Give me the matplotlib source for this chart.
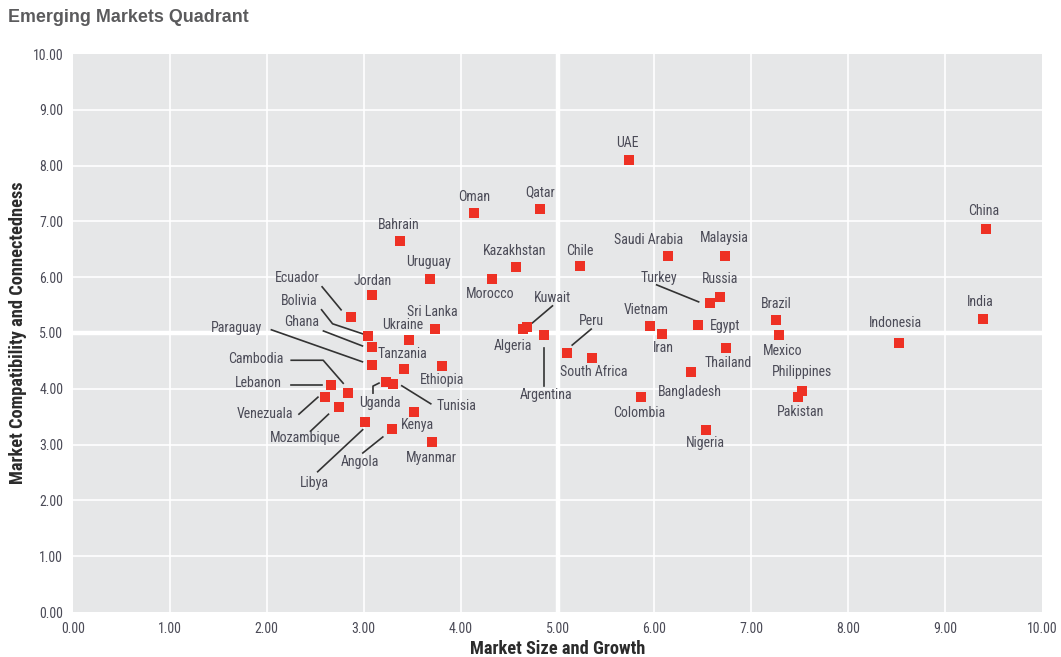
import matplotlib
matplotlib.use("Agg")
import matplotlib.pyplot as plt
import numpy as np

countries = ["UAE", "Oman", "Qatar", "Bahrain", "China", "Kazakhstan", "Chile", "Saudi Arabia",
             "Malaysia", "Uruguay", "Morocco", "Jordan", "Russia", "Turkey", "India", "Brazil",
             "Ecuador", "Egypt", "Vietnam", "Kuwait", "Algeria", "Sri Lanka", "Iran", "Mexico",
             "Bolivia", "Argentina", "Ukraine", "Ghana", "Paraguay", "Tanzania", "Ethiopia",
             "Cambodia", "Lebanon", "Venezuala", "Mozambique", "Libya", "Angola", "Uganda",
             "Tunisia", "Kenya", "Myanmar", "Peru", "South Africa", "Colombia", "Bangladesh",
             "Thailand", "Nigeria", "Philippines", "Pakistan", "Indonesia"]
market_size = [5.74, 4.14, 4.82, 3.37, 9.42, 4.57, 5.23, 6.14,
               6.73, 3.68, 4.32, 3.09, 6.68, 6.57, 9.39, 7.26,
               2.87, 6.45, 5.95, 4.69, 4.64, 3.74, 6.08, 7.29,
               3.04, 4.86, 3.47, 3.09, 3.09, 3.42, 3.81,
               2.84, 2.66, 2.60, 2.74, 3.01, 3.29, 3.23,
               3.30, 3.52, 3.71, 5.10, 5.36, 5.86, 6.38,
               6.74, 6.53, 7.52, 7.48, 8.52]
compatibility = [8.10, 7.15, 7.22, 6.65, 6.87, 6.18, 6.20, 6.38,
                 6.38, 5.97, 5.97, 5.68, 5.65, 5.54, 5.25, 5.23,
                 5.29, 5.14, 5.13, 5.11, 5.07, 5.07, 4.98, 4.96,
                 4.95, 4.96, 4.87, 4.75, 4.43, 4.35, 4.41,
                 3.92, 4.07, 3.85, 3.67, 3.41, 3.28, 4.12,
                 4.09, 3.58, 3.05, 4.64, 4.55, 3.85, 4.30,
                 4.73, 3.26, 3.96, 3.85, 4.82]
ticks = [0, 1, 2, 3, 4, 5, 6, 7, 8, 9, 10]
tick_labels = ["0.00", "1.00", "2.00", "3.00", "4.00", "5.00", "6.00", "7.00", "8.00", "9.00", "10.00"]

# label layout: text offset (pixels) from marker
label_off = {
    "UAE": (-2, 17), "Oman": (0, 16), "Qatar": (0, 17), "Bahrain": (-1, 16), "China": (-2, 18),
    "Kazakhstan": (-1, 16), "Chile": (0, 15), "Saudi Arabia": (-19, 16), "Malaysia": (-1, 18),
    "Uruguay": (-1, 17), "Morocco": (-1, -15), "Jordan": (0, 14), "Russia": (0, 18),
    "Turkey": (-51, 25), "India": (-3, 17), "Brazil": (0, 16), "Ecuador": (-54, 39),
    "Egypt": (27, -1), "Vietnam": (-3, 16), "Kuwait": (25, 29), "Algeria": (-10, -17),
    "Sri Lanka": (-3, 17), "Iran": (1, -14), "Mexico": (3, -16), "Bolivia": (-68, 35),
    "Argentina": (2, -60), "Ukraine": (-7, 15), "Ghana": (-71, 25), "Paraguay": (-136, 37),
    "Tanzania": (-2, 15), "Ethiopia": (0, -14), "Cambodia": (-92, 34), "Lebanon": (-72, 2),
    "Venezuala": (-60, -17), "Mozambique": (-33, -31), "Libya": (-50, -61), "Angola": (-32, -33),
    "Uganda": (-6, -21), "Tunisia": (64, -22), "Kenya": (3, -13), "Myanmar": (-1, -16),
    "Peru": (24, 32), "South Africa": (1, -14), "Colombia": (-2, -16), "Bangladesh": (-1, -20),
    "Thailand": (2, -15), "Nigeria": (0, -13), "Philippines": (0, 19), "Pakistan": (3, -15),
    "Indonesia": (-3, 20),
}
# leader lines: offsets (pixels) from marker
leaders = {
    "Ecuador": [(-29, 30), (-10, 7)],
    "Bolivia": [(-46, 26), (-35, 12), (-5, 2)],
    "Ghana": [(-49, 16), (-10, 1)],
    "Paraguay": [(-101, 35), (-10, 3)],
    "Cambodia": [(-57, 33), (-25, 33), (-5, 10)],
    "Lebanon": [(-40, 0), (-9, 0)],
    "Venezuala": [(-26, -17), (-7, 0)],
    "Mozambique": [(-28, -24), (-10, -7)],
    "Libya": [(-47, -50), (-2, -8)],
    "Angola": [(-29, -24), (-9, -8)],
    "Uganda": [(-13, -11), (-13, -4), (-7, -1)],
    "Tunisia": [(9, -2), (38, -20)],
    "Kuwait": [(25, 21), (5, 4)],
    "Argentina": [(0, -13), (0, -51)],
    "Peru": [(24, 24), (5, 8)],
    "Turkey": [(-53, 18), (-11, 1)],
}

FONT = ["Roboto Condensed", "Liberation Sans Narrow", "Roboto", "DejaVu Sans"]
TXT = "#4b4b57"
W, H, DPI = 1061, 657, 100

fig = plt.figure(figsize=(W / DPI, H / DPI), dpi=DPI, facecolor="white")
ax = fig.add_axes([73 / W, 1 - 612 / H, (1042 - 73) / W, (612 - 54) / H])
ax.set_facecolor("#e6e7e8")
ax.set_xlim(0, 10)
ax.set_ylim(0, 10)
for s in ax.spines.values():
    s.set_visible(False)

for t in ticks:
    lw = 3.2 if t == 5 else 1.2
    if 0 < t < 10:
        ax.axvline(t, color="white", lw=lw, zorder=1)
        ax.axhline(t, color="white", lw=lw, zorder=1)

ax.set_xticks(ticks)
ax.set_xticklabels(tick_labels)
ax.set_yticks(ticks)
ax.set_yticklabels(tick_labels)
ax.tick_params(length=0, labelsize=10, labelcolor=TXT, pad=7)
for lab in ax.get_xticklabels() + ax.get_yticklabels():
    lab.set_family(FONT)

ax.scatter(market_size, compatibility, marker="s", s=60, color="#ee3124", zorder=3, linewidths=0)

trans = ax.transData
inv = trans.inverted()
for name, x, y in zip(countries, market_size, compatibility):
    dx, dy = label_off[name]
    ax.annotate(name, (x, y), xytext=(dx, dy), textcoords="offset pixels",
                ha="center", va="center", fontsize=10, color=TXT, family=FONT, zorder=4)
    if name in leaders:
        px, py = trans.transform((x, y))
        pts = [inv.transform((px + ox, py + oy)) for ox, oy in leaders[name]]
        pts = np.array(pts)
        ax.plot(pts[:, 0], pts[:, 1], color="#333333", lw=1.2, zorder=2, clip_on=False)

ax.set_xlabel("Market Size and Growth", fontsize=13.2, fontweight="bold", color="#2b2b2b",
              family=FONT, labelpad=3)
ax.set_ylabel("Market Compatibility and Connectedness", fontsize=13.2, fontweight="bold",
              color="#2b2b2b", family=FONT, labelpad=4)

fig.text(8 / W, 1 - 18 / H, "Emerging Markets Quadrant", fontsize=12.9, fontweight="bold",
         color="#5b5b5d", ha="left", va="center", family=["Liberation Sans", "DejaVu Sans"])

fig.savefig("out.png", dpi=DPI, facecolor="white")
